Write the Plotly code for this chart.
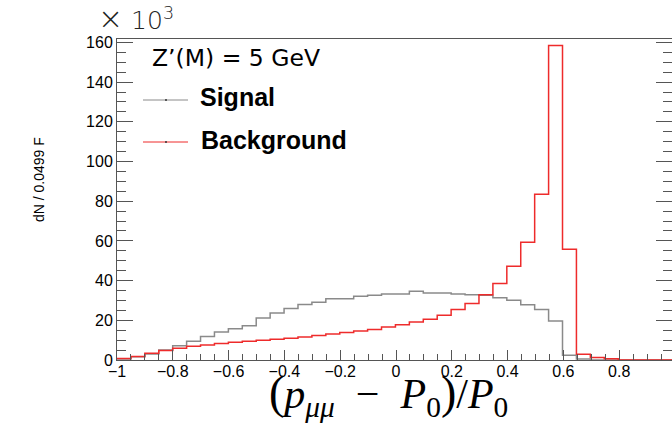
import plotly.graph_objects as go

# Histogram binning: 40 bins of width 0.0499 starting at -1
bin_width = 0.0499
n_bins = 40
bin_edges = [-1 + bin_width * k for k in range(n_bins + 1)]

# Bin contents (in units of 10^3 entries)
signal = [0.5, 1.6, 3.0, 5.0, 7.2, 9.5, 11.9, 14.1, 15.8, 17.2,
          21.2, 23.7, 25.9, 27.9, 29.1, 30.9, 30.9, 32.1, 32.6, 33.2,
          33.2, 34.6, 33.8, 33.8, 33.2, 32.9, 32.6, 31.4, 30.1, 27.8,
          25.5, 19.6, 2.4, 0.5, 0.0, 0.0, 0.0, 0.0, 0.0, 0.0]
background = [0.7, 1.8, 3.4, 4.8, 5.9, 6.9, 7.6, 8.3, 9.0, 9.5,
              10.0, 10.4, 10.9, 11.6, 12.3, 13.1, 13.8, 14.6, 15.4, 16.6,
              17.8, 19.1, 20.5, 22.5, 25.4, 28.5, 32.9, 38.5, 47.2, 59.3,
              83.5, 158.5, 55.8, 2.9, 1.2, 0.6, 0.0, 0.0, 0.0, 0.0]

series_names = ["Signal", "Background"]
series_colors = ["#8a8a8a", "#ee2b2b"]

x_ticks = [-1, -0.8, -0.6, -0.4, -0.2, 0, 0.2, 0.4, 0.6, 0.8]
y_ticks = [0, 20, 40, 60, 80, 100, 120, 140, 160]

W, H = 672, 427
L, R, T, B = 117, 0, 39, 67
PW, PH = W - L - R, H - T - B


def px(xp):
    return (xp - L) / PW


def py(yp):
    return (H - B - yp) / PH


fig = go.Figure()
for name, vals, color in zip(series_names, [signal, background], series_colors):
    fig.add_trace(go.Scatter(
        x=bin_edges, y=vals + [vals[-1]], mode="lines", line_shape="hv",
        line=dict(color=color, width=1.5), name=name, showlegend=False,
        hoverinfo="skip"))

axis_col = "#555555"
tick_font = dict(family="Liberation Sans, Arial, sans-serif", size=16, color="black")

fig.update_xaxes(
    range=[-1, -1 + PW / 279.0], tickvals=x_ticks, ticks="inside", ticklen=10,
    tickcolor=axis_col, tickwidth=1, showline=True, linecolor=axis_col,
    linewidth=1, mirror=True, showgrid=False, zeroline=False,
    tickfont=tick_font, ticklabelstandoff=-3,
    minor=dict(dtick=0.05, tick0=-1, ticks="inside", ticklen=6,
               tickcolor=axis_col, showgrid=False))
fig.update_yaxes(
    range=[0, PH / 1.985], tickvals=y_ticks, ticks="inside", ticklen=16,
    tickcolor=axis_col, tickwidth=1, showline=True, linecolor=axis_col,
    linewidth=1, mirror="ticks", showgrid=False, zeroline=False,
    tickfont=tick_font,
    minor=dict(dtick=5, tick0=0, ticks="inside", ticklen=9,
               tickcolor=axis_col, showgrid=False))

paren = "<span style='font-size:46px'>{}</span>"
x_title = (paren.format("(") + "<i>p</i><sub><i>μμ</i></sub>\u2002−\u2002<i>P</i><sub>0</sub>"
           + paren.format(")") + "/<i>P</i><sub>0</sub>")

annotations = [
    # exponent marker above the y axis
    dict(text="<span style='font-size:30px'>×</span> 10<sup>3</sup>",
         x=px(96), y=py(18), xanchor="left", yanchor="middle",
         font=dict(family="DejaVu Sans", size=25, color="#222", weight=200)),
    # y-axis title
    dict(text="dN / 0.0499 F", x=px(38.5), y=py(179.5), textangle=-90,
         xanchor="center", yanchor="middle",
         font=dict(family="Liberation Sans, Arial", size=14, color="black")),
    # x-axis title
    dict(text=x_title, x=px(388), y=py(395), xanchor="center", yanchor="middle",
         font=dict(family="Liberation Serif, Times New Roman, serif", size=42, color="black")),
    # legend header and entries
    dict(text="Z’(M) = 5 GeV", x=px(150), y=py(58), xanchor="left", yanchor="middle",
         font=dict(family="DejaVu Sans", size=23.5, color="black")),
    dict(text="<b>Signal</b>", x=px(198), y=py(97), xanchor="left", yanchor="middle",
         font=dict(family="Liberation Sans, Arial", size=25, color="black")),
    dict(text="<b>Background</b>", x=px(199), y=py(140), xanchor="left", yanchor="middle",
         font=dict(family="Liberation Sans, Arial", size=25, color="black")),
]
for a in annotations:
    a.update(xref="paper", yref="paper", showarrow=False)

shapes = []
for color, yy in zip(series_colors, [100, 142]):
    shapes.append(dict(type="line", xref="paper", yref="paper",
                       x0=px(143), x1=px(188), y0=py(yy), y1=py(yy),
                       line=dict(color=color, width=1)))
    shapes.append(dict(type="circle", xref="paper", yref="paper",
                       x0=px(165), x1=px(167), y0=py(yy + 1), y1=py(yy - 1),
                       fillcolor="#333", line=dict(width=0)))

fig.update_layout(
    width=W, height=H, margin=dict(l=L, r=R, t=T, b=B),
    paper_bgcolor="white", plot_bgcolor="white",
    annotations=annotations, shapes=shapes, showlegend=False)

fig.write_html("out.html")
